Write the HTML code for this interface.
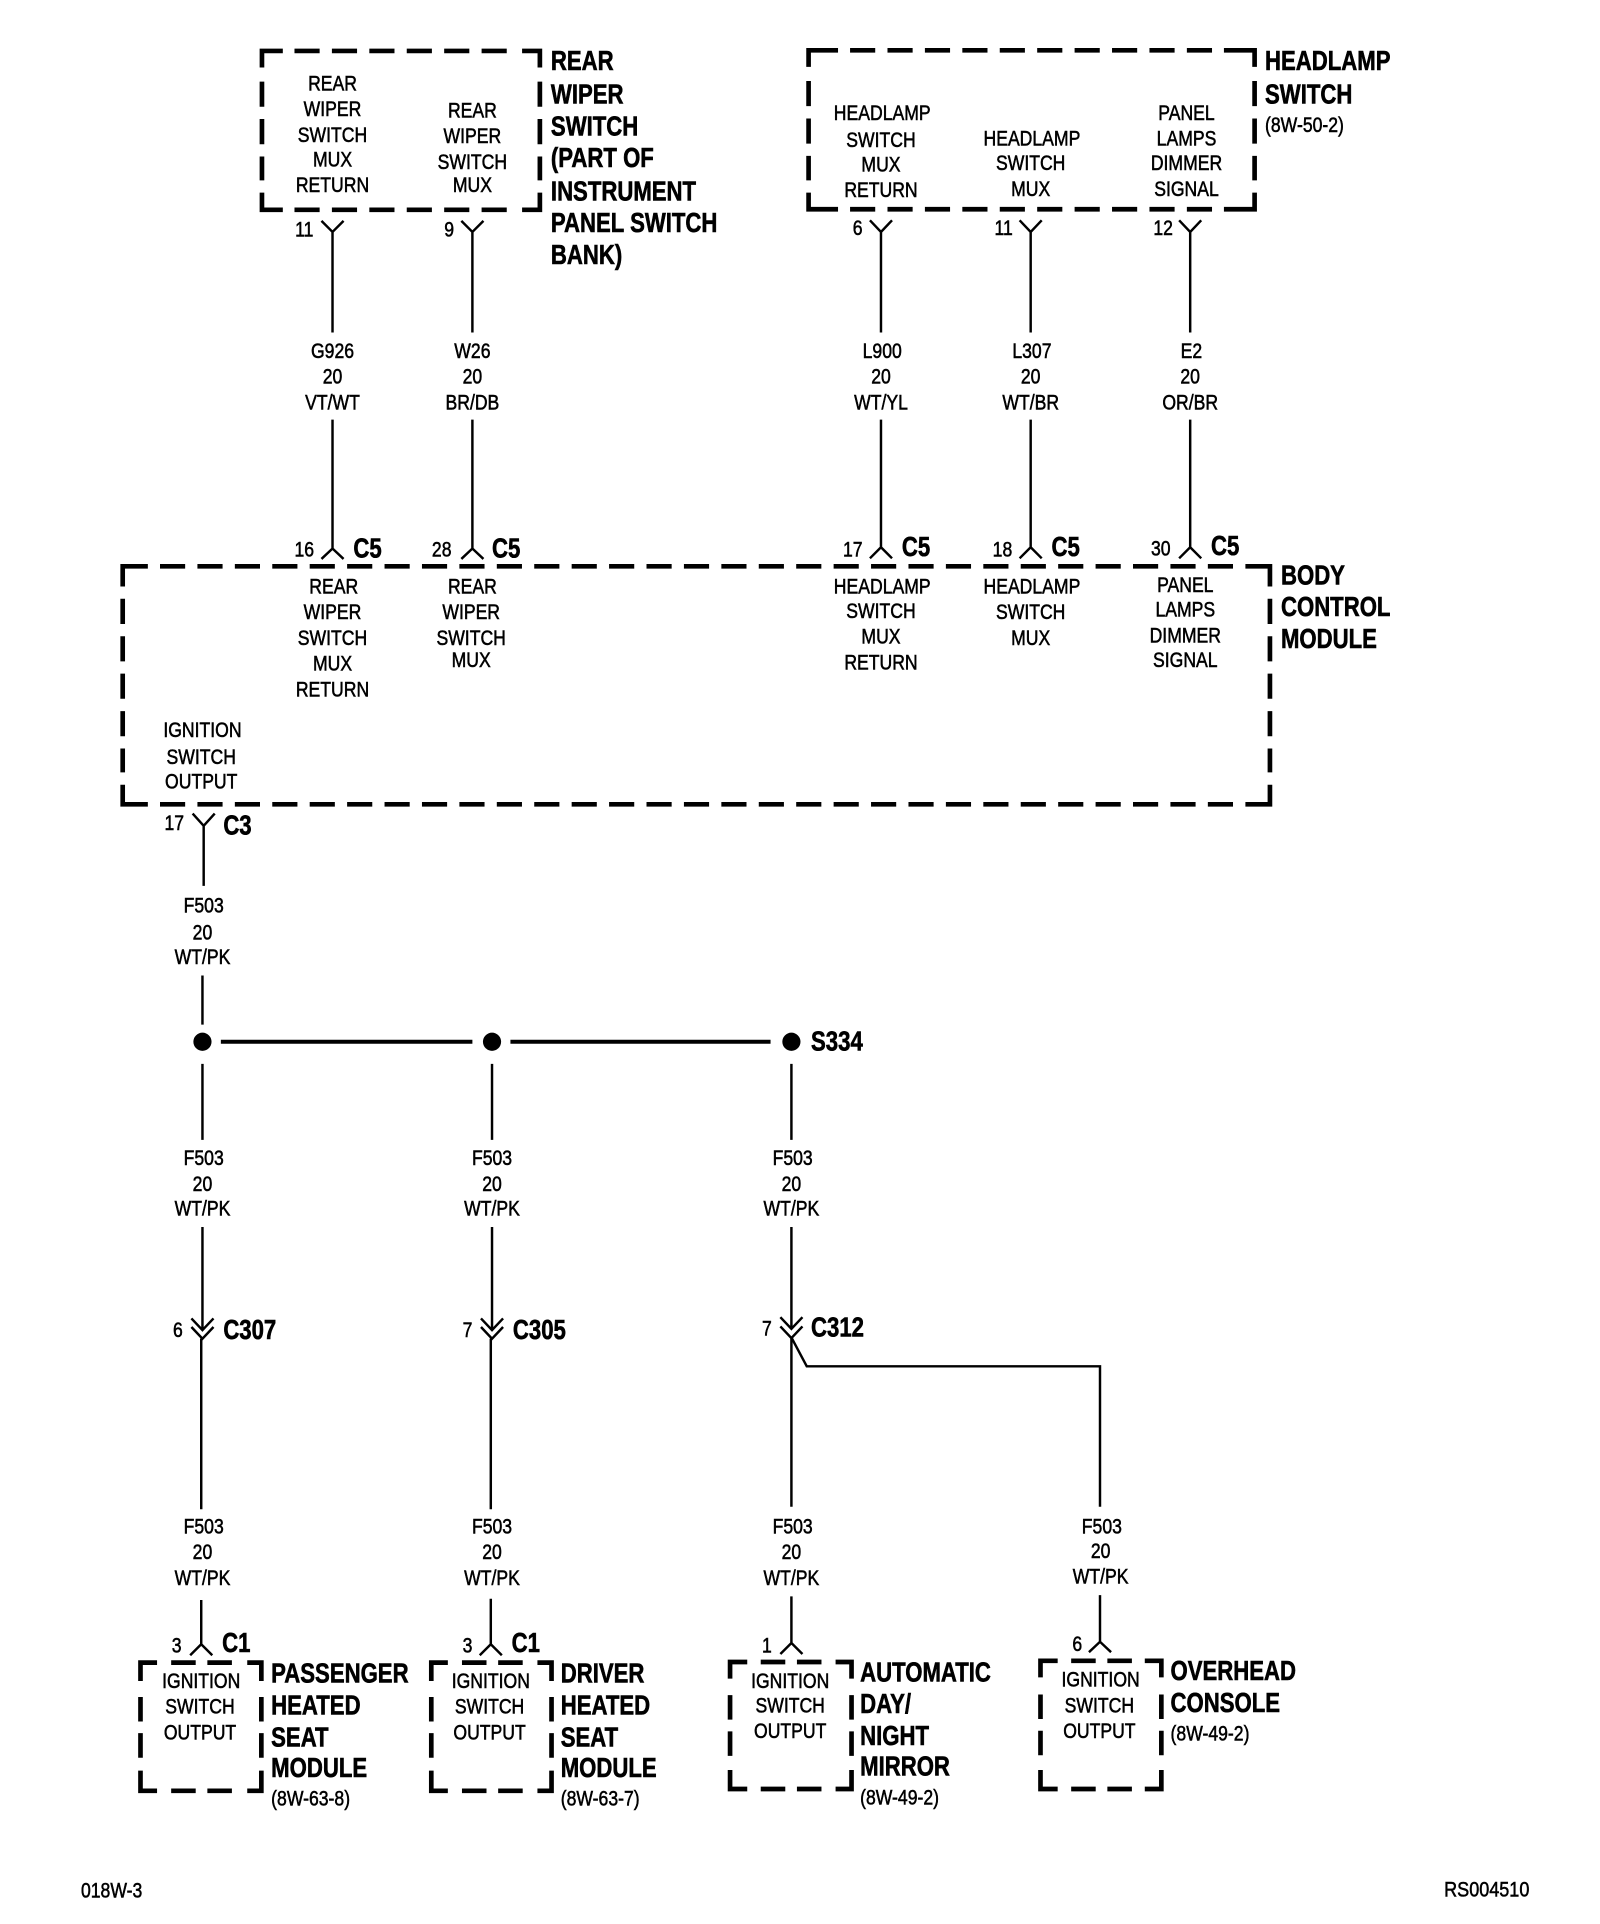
<!DOCTYPE html>
<html><head><meta charset="utf-8"><title>Wiring diagram</title>
<style>
html,body{margin:0;padding:0;background:#fff}
svg{display:block}
text{font-family:"Liberation Sans",Arial,sans-serif;fill:#000}
.r{font-size:17.5px;text-anchor:middle;stroke:#000;stroke-width:.45}
.l{font-size:17.5px;text-anchor:start;stroke:#000;stroke-width:.45}
.b{font-size:22.3px;font-weight:bold;text-anchor:start;stroke:#000;stroke-width:.5}
.w{stroke:#000;stroke-width:2;fill:none}
.d{stroke:#000;stroke-width:3.8;fill:none;stroke-dasharray:20.5 10}
.s{stroke:#000;stroke-width:3.8;fill:none;stroke-dasharray:20 9.5}
.c{stroke:#000;stroke-width:3.8;fill:none}
</style></head><body>
<svg xmlns="http://www.w3.org/2000/svg" width="1600" height="1924" viewBox="0 0 1304 1568">
<rect width="1304" height="1568" fill="#fff"/>

<!-- Rear wiper box -->
<path class="c" d="M213.5 55V41.5H230.5M425.5 41.5H440V55M213.5 157V171H230.5M425.5 171H440V157"/>
<path class="d" d="M240 41.5H415M240 171H415M213.5 66.5V147M440 66.5V147"/>
<!-- Headlamp box -->
<path class="c" d="M659 54.5V41H683M997.5 41H1022.5V54.5M659 157V170.5H683M997.5 170.5H1022.5V157"/>
<path class="d" d="M692.8 41H988M692.8 170.5H988M659 66V147M1022.5 66V147"/>
<!-- BCM box -->
<path class="c" d="M100 478V461.5H120.5M1015 461.5H1035V478M100 639.5V655.5H120.5M1015 655.5H1035V639.5"/>
<path class="d" d="M130.4 461.5H1005.5M130.4 655.5H1005.5M100 488V629.5M1035 488V629.5"/>
<!-- Small module boxes -->
<path class="c" d="M114.5 1370V1355H128M201.5 1355H213V1370M114.5 1443V1459.5H128M201.5 1459.5H213V1443"/>
<path class="s" d="M139.5 1355H190M139.5 1459.5H190M114.5 1383V1433M213 1383V1433"/>
<path class="c" d="M351.5 1370V1355H365M438 1355H449.5V1370M351.5 1443V1459.5H365M438 1459.5H449.5V1443"/>
<path class="s" d="M376.5 1355H427M376.5 1459.5H427M351.5 1383V1433M449.5 1383V1433"/>
<path class="c" d="M595 1368V1354.5H609M681 1354.5H694V1368M595 1442.5V1458H609M681 1458H694V1442.5"/>
<path class="s" d="M620 1354.5H670.5M620 1458H670.5M595 1381.5V1432M694 1381.5V1432"/>
<path class="c" d="M848 1367V1353.5H862M933 1353.5H946.5V1367M848 1442.5V1458H862M933 1458H946.5V1442.5"/>
<path class="s" d="M873 1353.5H923.5M873 1458H923.5M848 1381V1431.5M946.5 1381V1431.5"/>

<!-- Upper wires and connectors -->
<path class="w" d="M262 180L271 189L280 180M271 189V271M271 342V447M262 455.5L271 447L280 455.5"/>
<path class="w" d="M376 180L385 189L394 180M385 189V271M385 342V447M376 455.5L385 447L394 455.5"/>
<path class="w" d="M709 179.5L718 189L727 179.5M718 189V271M718 342V446M709 455L718 446L727 455"/>
<path class="w" d="M831 179.5L840 189L849 179.5M840 189V271M840 342V446M831 455L840 446L849 455"/>
<path class="w" d="M961 179.5L970 189L979 179.5M970 189V271M970 342V446M961 455L970 446L979 455"/>
<path class="w" d="M157 663L166 673L175 663M166 673V722M165 795V835"/>

<!-- Splice -->
<circle cx="165" cy="849" r="7.4"/><circle cx="401" cy="849" r="7.4"/><circle cx="645" cy="849" r="7.4"/>
<path stroke="#000" stroke-width="3.2" fill="none" d="M180 849H385M416 849H628"/>

<!-- Lower wires -->
<path class="w" d="M165 867V929M165 1000V1084M156 1074.5L165 1084L174 1074.5M156 1081.5L165 1091L174 1081.5M164 1091V1230M164 1304V1340M155 1349L164 1340L173 1349"/>
<path class="w" d="M401 867V929M401 1000V1084M392 1074.5L401 1084L410 1074.5M392 1081.5L401 1091L410 1081.5M400 1091V1230M400 1303V1340M391 1349L400 1340L409 1349"/>
<path class="w" d="M645 867V929M645 1000V1083M636 1073.5L645 1083L654 1073.5M636 1081L645 1090.5L654 1081M645 1090V1228M645 1301V1339M636 1348L645 1339L654 1348"/>
<path class="w" d="M645 1090L657.5 1113.5H896.5V1228M896.5 1300V1338M887.5 1346.5L896.5 1338L905.5 1346.5"/>

<g transform="translate(0 -.8)">
<!-- Rear wiper text -->
<text class="r" transform="translate(271 74.4) scale(.82 1)">REAR</text>
<text class="r" transform="translate(271 95.4) scale(.82 1)">WIPER</text>
<text class="r" transform="translate(271 116.4) scale(.82 1)">SWITCH</text>
<text class="r" transform="translate(271 136.4) scale(.82 1)">MUX</text>
<text class="r" transform="translate(271 157.4) scale(.82 1)">RETURN</text>
<text class="r" transform="translate(385 96.4) scale(.82 1)">REAR</text>
<text class="r" transform="translate(385 117.4) scale(.82 1)">WIPER</text>
<text class="r" transform="translate(385 138.4) scale(.82 1)">SWITCH</text>
<text class="r" transform="translate(385 157.4) scale(.82 1)">MUX</text>
<text class="b" transform="translate(449 58) scale(.81 1)">REAR</text>
<text class="b" transform="translate(449 85) scale(.81 1)">WIPER</text>
<text class="b" transform="translate(449 111) scale(.81 1)">SWITCH</text>
<text class="b" transform="translate(449 137) scale(.81 1)">(PART OF</text>
<text class="b" transform="translate(449 164) scale(.81 1)">INSTRUMENT</text>
<text class="b" transform="translate(449 190) scale(.81 1)">PANEL SWITCH</text>
<text class="b" transform="translate(449 216) scale(.81 1)">BANK)</text>

<!-- Headlamp text -->
<text class="r" transform="translate(719 98.4) scale(.82 1)">HEADLAMP</text>
<text class="r" transform="translate(718 120.4) scale(.82 1)">SWITCH</text>
<text class="r" transform="translate(718 140.4) scale(.82 1)">MUX</text>
<text class="r" transform="translate(718 161.4) scale(.82 1)">RETURN</text>
<text class="r" transform="translate(841 119.4) scale(.82 1)">HEADLAMP</text>
<text class="r" transform="translate(840 139.4) scale(.82 1)">SWITCH</text>
<text class="r" transform="translate(840 160.4) scale(.82 1)">MUX</text>
<text class="r" transform="translate(967 98.4) scale(.82 1)">PANEL</text>
<text class="r" transform="translate(967 119.4) scale(.82 1)">LAMPS</text>
<text class="r" transform="translate(967 139.4) scale(.82 1)">DIMMER</text>
<text class="r" transform="translate(967 160.4) scale(.82 1)">SIGNAL</text>
<text class="b" transform="translate(1031 58) scale(.81 1)">HEADLAMP</text>
<text class="b" transform="translate(1031 85) scale(.81 1)">SWITCH</text>
<text class="l" transform="translate(1031 108.4) scale(.82 1)">(8W-50-2)</text>

<!-- Pin numbers upper -->
<text class="r" transform="translate(248 193.4) scale(.82 1)">11</text>
<text class="r" transform="translate(366 193.4) scale(.82 1)">9</text>
<text class="r" transform="translate(699 192.4) scale(.82 1)">6</text>
<text class="r" transform="translate(818 192.4) scale(.82 1)">11</text>
<text class="r" transform="translate(948 192.4) scale(.82 1)">12</text>

<!-- Wire labels upper -->
<text class="r" transform="translate(271 292.4) scale(.82 1)">G926</text>
<text class="r" transform="translate(271 313.4) scale(.82 1)">20</text>
<text class="r" transform="translate(271 334.4) scale(.82 1)">VT/WT</text>
<text class="r" transform="translate(385 292.4) scale(.82 1)">W26</text>
<text class="r" transform="translate(385 313.4) scale(.82 1)">20</text>
<text class="r" transform="translate(385 334.4) scale(.82 1)">BR/DB</text>
<text class="r" transform="translate(719 292.4) scale(.82 1)">L900</text>
<text class="r" transform="translate(718 313.4) scale(.82 1)">20</text>
<text class="r" transform="translate(718 334.4) scale(.82 1)">WT/YL</text>
<text class="r" transform="translate(841 292.4) scale(.82 1)">L307</text>
<text class="r" transform="translate(840 313.4) scale(.82 1)">20</text>
<text class="r" transform="translate(840 334.4) scale(.82 1)">WT/BR</text>
<text class="r" transform="translate(971 292.4) scale(.82 1)">E2</text>
<text class="r" transform="translate(970 313.4) scale(.82 1)">20</text>
<text class="r" transform="translate(970 334.4) scale(.82 1)">OR/BR</text>

<!-- BCM pins -->
<text class="r" transform="translate(248 454.4) scale(.82 1)">16</text>
<text class="b" transform="translate(288 455) scale(.81 1)">C5</text>
<text class="r" transform="translate(360 454.4) scale(.82 1)">28</text>
<text class="b" transform="translate(401 455) scale(.81 1)">C5</text>
<text class="r" transform="translate(695 454.4) scale(.82 1)">17</text>
<text class="b" transform="translate(735 454) scale(.81 1)">C5</text>
<text class="r" transform="translate(817 454.4) scale(.82 1)">18</text>
<text class="b" transform="translate(857 454) scale(.81 1)">C5</text>
<text class="r" transform="translate(946 453.4) scale(.82 1)">30</text>
<text class="b" transform="translate(987 453) scale(.81 1)">C5</text>

<!-- BCM text -->
<text class="r" transform="translate(272 484.4) scale(.82 1)">REAR</text>
<text class="r" transform="translate(271 505.4) scale(.82 1)">WIPER</text>
<text class="r" transform="translate(271 526.4) scale(.82 1)">SWITCH</text>
<text class="r" transform="translate(271 547.4) scale(.82 1)">MUX</text>
<text class="r" transform="translate(271 568.4) scale(.82 1)">RETURN</text>
<text class="r" transform="translate(385 484.4) scale(.82 1)">REAR</text>
<text class="r" transform="translate(384 505.4) scale(.82 1)">WIPER</text>
<text class="r" transform="translate(384 526.4) scale(.82 1)">SWITCH</text>
<text class="r" transform="translate(384 544.4) scale(.82 1)">MUX</text>
<text class="r" transform="translate(719 484.4) scale(.82 1)">HEADLAMP</text>
<text class="r" transform="translate(718 504.4) scale(.82 1)">SWITCH</text>
<text class="r" transform="translate(718 525.4) scale(.82 1)">MUX</text>
<text class="r" transform="translate(718 546.4) scale(.82 1)">RETURN</text>
<text class="r" transform="translate(841 484.4) scale(.82 1)">HEADLAMP</text>
<text class="r" transform="translate(840 505.4) scale(.82 1)">SWITCH</text>
<text class="r" transform="translate(840 526.4) scale(.82 1)">MUX</text>
<text class="r" transform="translate(966 483.4) scale(.82 1)">PANEL</text>
<text class="r" transform="translate(966 503.4) scale(.82 1)">LAMPS</text>
<text class="r" transform="translate(966 524.4) scale(.82 1)">DIMMER</text>
<text class="r" transform="translate(966 544.4) scale(.82 1)">SIGNAL</text>
<text class="r" transform="translate(165 601.4) scale(.82 1)">IGNITION</text>
<text class="r" transform="translate(164 623.4) scale(.82 1)">SWITCH</text>
<text class="r" transform="translate(164 643.4) scale(.82 1)">OUTPUT</text>
<text class="b" transform="translate(1044 477) scale(.81 1)">BODY</text>
<text class="b" transform="translate(1044 503) scale(.81 1)">CONTROL</text>
<text class="b" transform="translate(1044 529) scale(.81 1)">MODULE</text>

<!-- Below BCM -->
<text class="r" transform="translate(142 677.4) scale(.82 1)">17</text>
<text class="b" transform="translate(182 681) scale(.81 1)">C3</text>
<text class="r" transform="translate(166 744.4) scale(.82 1)">F503</text>
<text class="r" transform="translate(165 766.4) scale(.82 1)">20</text>
<text class="r" transform="translate(165 786.4) scale(.82 1)">WT/PK</text>
<text class="b" transform="translate(661 857) scale(.81 1)">S334</text>

<!-- Mid wire labels -->
<text class="r" transform="translate(166 950.4) scale(.82 1)">F503</text>
<text class="r" transform="translate(165 971.4) scale(.82 1)">20</text>
<text class="r" transform="translate(165 991.4) scale(.82 1)">WT/PK</text>
<text class="r" transform="translate(401 950.4) scale(.82 1)">F503</text>
<text class="r" transform="translate(401 971.4) scale(.82 1)">20</text>
<text class="r" transform="translate(401 991.4) scale(.82 1)">WT/PK</text>
<text class="r" transform="translate(646 950.4) scale(.82 1)">F503</text>
<text class="r" transform="translate(645 971.4) scale(.82 1)">20</text>
<text class="r" transform="translate(645 991.4) scale(.82 1)">WT/PK</text>

<!-- Inline connectors -->
<text class="r" transform="translate(145 1090.4) scale(.82 1)">6</text>
<text class="b" transform="translate(182 1092) scale(.81 1)">C307</text>
<text class="r" transform="translate(381 1090.4) scale(.82 1)">7</text>
<text class="b" transform="translate(418 1092) scale(.81 1)">C305</text>
<text class="r" transform="translate(625 1089.4) scale(.82 1)">7</text>
<text class="b" transform="translate(661 1090) scale(.81 1)">C312</text>

<!-- Lower wire labels -->
<text class="r" transform="translate(166 1250.4) scale(.82 1)">F503</text>
<text class="r" transform="translate(165 1271.4) scale(.82 1)">20</text>
<text class="r" transform="translate(165 1292.4) scale(.82 1)">WT/PK</text>
<text class="r" transform="translate(401 1250.4) scale(.82 1)">F503</text>
<text class="r" transform="translate(401 1271.4) scale(.82 1)">20</text>
<text class="r" transform="translate(401 1292.4) scale(.82 1)">WT/PK</text>
<text class="r" transform="translate(646 1250.4) scale(.82 1)">F503</text>
<text class="r" transform="translate(645 1271.4) scale(.82 1)">20</text>
<text class="r" transform="translate(645 1292.4) scale(.82 1)">WT/PK</text>
<text class="r" transform="translate(898 1250.4) scale(.82 1)">F503</text>
<text class="r" transform="translate(897 1270.4) scale(.82 1)">20</text>
<text class="r" transform="translate(897 1291.4) scale(.82 1)">WT/PK</text>

<!-- Bottom pins -->
<text class="r" transform="translate(144 1347.4) scale(.82 1)">3</text>
<text class="b" transform="translate(181 1347) scale(.81 1)">C1</text>
<text class="r" transform="translate(381 1347.4) scale(.82 1)">3</text>
<text class="b" transform="translate(417 1347) scale(.81 1)">C1</text>
<text class="r" transform="translate(625 1347.4) scale(.82 1)">1</text>
<text class="r" transform="translate(878 1346.4) scale(.82 1)">6</text>

<!-- Bottom modules -->
<text class="r" transform="translate(164 1376.4) scale(.82 1)">IGNITION</text>
<text class="r" transform="translate(163 1397.4) scale(.82 1)">SWITCH</text>
<text class="r" transform="translate(163 1418.4) scale(.82 1)">OUTPUT</text>
<text class="b" transform="translate(221 1372) scale(.81 1)">PASSENGER</text>
<text class="b" transform="translate(221 1398) scale(.81 1)">HEATED</text>
<text class="b" transform="translate(221 1424) scale(.81 1)">SEAT</text>
<text class="b" transform="translate(221 1449) scale(.81 1)">MODULE</text>
<text class="l" transform="translate(221 1472.4) scale(.82 1)">(8W-63-8)</text>

<text class="r" transform="translate(400 1376.4) scale(.82 1)">IGNITION</text>
<text class="r" transform="translate(399 1397.4) scale(.82 1)">SWITCH</text>
<text class="r" transform="translate(399 1418.4) scale(.82 1)">OUTPUT</text>
<text class="b" transform="translate(457 1372) scale(.81 1)">DRIVER</text>
<text class="b" transform="translate(457 1398) scale(.81 1)">HEATED</text>
<text class="b" transform="translate(457 1424) scale(.81 1)">SEAT</text>
<text class="b" transform="translate(457 1449) scale(.81 1)">MODULE</text>
<text class="l" transform="translate(457 1472.4) scale(.82 1)">(8W-63-7)</text>

<text class="r" transform="translate(644 1376.4) scale(.82 1)">IGNITION</text>
<text class="r" transform="translate(644 1396.4) scale(.82 1)">SWITCH</text>
<text class="r" transform="translate(644 1417.4) scale(.82 1)">OUTPUT</text>
<text class="b" transform="translate(701 1371) scale(.81 1)">AUTOMATIC</text>
<text class="b" transform="translate(701 1397) scale(.81 1)">DAY/</text>
<text class="b" transform="translate(701 1423) scale(.81 1)">NIGHT</text>
<text class="b" transform="translate(701 1448) scale(.81 1)">MIRROR</text>
<text class="l" transform="translate(701 1471.4) scale(.82 1)">(8W-49-2)</text>

<text class="r" transform="translate(897 1375.4) scale(.82 1)">IGNITION</text>
<text class="r" transform="translate(896 1396.4) scale(.82 1)">SWITCH</text>
<text class="r" transform="translate(896 1417.4) scale(.82 1)">OUTPUT</text>
<text class="b" transform="translate(954 1370) scale(.81 1)">OVERHEAD</text>
<text class="b" transform="translate(954 1396) scale(.81 1)">CONSOLE</text>
<text class="l" transform="translate(954 1419.4) scale(.82 1)">(8W-49-2)</text>

<!-- Footer -->
<text class="l" transform="translate(66 1547.4) scale(.82 1)">018W-3</text>
<text class="l" transform="translate(1177 1546.4) scale(.84 1)">RS004510</text>
</g>
</svg>
</body></html>
